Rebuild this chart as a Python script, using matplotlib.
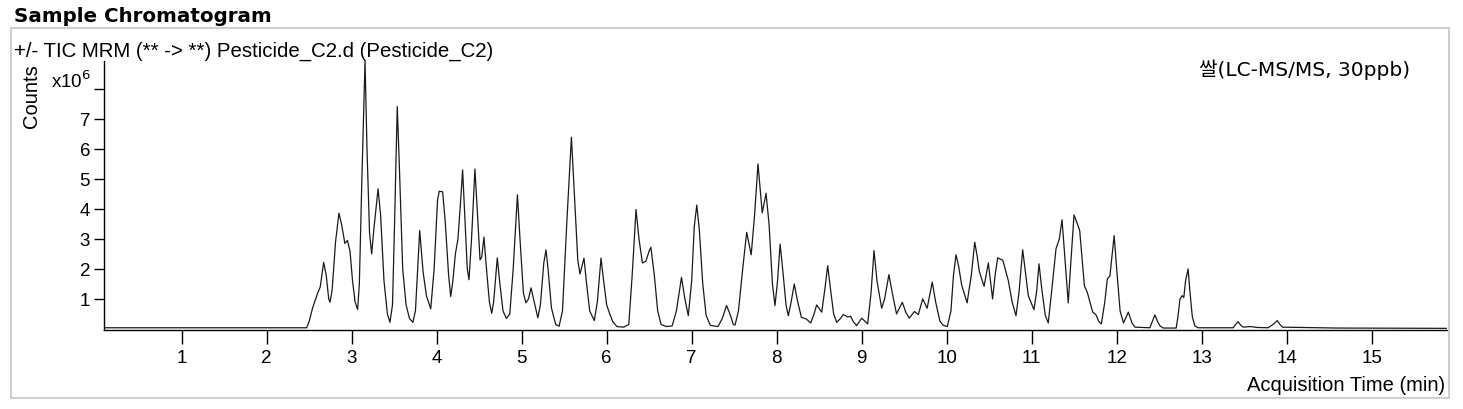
import matplotlib.pyplot as plt
from matplotlib.patches import Rectangle

# 크로마토그램 추적값: 시간(min)과 강도(x10^6), 그림에서 읽은 값
times = [
    0.09, 2.40, 2.47, 2.50, 2.54, 2.57, 2.60, 2.63, 2.67, 2.70, 2.73, 2.745,
    2.77, 2.81, 2.85, 2.88, 2.92, 2.95, 2.98, 3.01, 3.04, 3.07, 3.09, 3.12,
    3.157, 3.18, 3.21, 3.235, 3.26, 3.31, 3.34, 3.38, 3.42, 3.45, 3.48, 3.50,
    3.536, 3.56, 3.60, 3.64, 3.68, 3.72, 3.75, 3.80, 3.84, 3.88, 3.93, 3.97,
    4.01, 4.03, 4.07, 4.10, 4.14, 4.165, 4.19, 4.22, 4.25, 4.28, 4.305, 4.33,
    4.36, 4.38, 4.41, 4.45, 4.48, 4.51, 4.53, 4.556, 4.58, 4.62, 4.647, 4.67,
    4.713, 4.74, 4.78, 4.82, 4.86, 4.90, 4.95, 4.98, 5.02, 5.05, 5.08, 5.11,
    5.14, 5.19, 5.22, 5.26, 5.286, 5.31, 5.35, 5.40, 5.44, 5.48, 5.53, 5.585,
    5.62, 5.66, 5.686, 5.733, 5.76, 5.80, 5.854, 5.89, 5.933, 5.96, 6.00, 6.03,
    6.07, 6.12, 6.20, 6.26, 6.30, 6.345, 6.38, 6.42, 6.46, 6.50, 6.52, 6.56,
    6.60, 6.64, 6.70, 6.77, 6.82, 6.88, 6.92, 6.96, 7.00, 7.03, 7.06, 7.09,
    7.13, 7.17, 7.22, 7.31, 7.36, 7.41, 7.45, 7.49, 7.51, 7.55, 7.60, 7.647,
    7.70, 7.74, 7.78, 7.81, 7.83, 7.875, 7.91, 7.95, 7.98, 8.01, 8.04, 8.07,
    8.11, 8.137, 8.17, 8.207, 8.24, 8.29, 8.35, 8.40, 8.44, 8.47, 8.53, 8.57,
    8.60, 8.63, 8.67, 8.706, 8.75, 8.784, 8.835, 8.87, 8.90, 8.94, 9.00, 9.04,
    9.07, 9.11, 9.145, 9.18, 9.235, 9.27, 9.32, 9.36, 9.41, 9.478, 9.52, 9.56,
    9.62, 9.666, 9.718, 9.77, 9.83, 9.87, 9.92, 9.96, 10.007, 10.05, 10.08,
    10.11, 10.14, 10.176, 10.24, 10.29, 10.33, 10.36, 10.384, 10.44, 10.49,
    10.54, 10.57, 10.60, 10.66, 10.725, 10.77, 10.815, 10.85, 10.894, 10.93,
    10.96, 11.027, 11.06, 11.086, 11.12, 11.16, 11.195, 11.24, 11.286, 11.325,
    11.357, 11.39, 11.43, 11.46, 11.498, 11.548, 11.565, 11.60, 11.62, 11.654,
    11.718, 11.757, 11.79, 11.82, 11.86, 11.89, 11.92, 11.97, 12.00, 12.04,
    12.08, 12.137, 12.18, 12.215, 12.39, 12.42, 12.45, 12.48, 12.51, 12.547,
    12.70, 12.72, 12.745, 12.77, 12.79, 12.81, 12.84, 12.86, 12.89, 12.92,
    12.96, 13.37, 13.40, 13.43, 13.46, 13.49, 13.57, 13.65, 13.78, 13.84,
    13.89, 13.92, 13.95, 14.60, 15.89,
]
counts = [
    0.04, 0.04, 0.04, 0.25, 0.70, 0.95, 1.20, 1.40, 2.22, 1.80, 1.00, 0.89,
    1.30, 2.90, 3.86, 3.50, 2.85, 2.95, 2.60, 1.60, 0.90, 0.65, 1.50, 5.00,
    8.94, 6.00, 3.20, 2.50, 3.30, 4.67, 3.80, 1.60, 0.50, 0.22, 0.80, 3.00,
    7.41, 5.50, 2.00, 0.80, 0.35, 0.22, 0.60, 3.28, 1.90, 1.10, 0.67, 2.00,
    4.30, 4.59, 4.57, 3.60, 1.80, 1.08, 1.60, 2.50, 3.00, 4.20, 5.30, 3.80,
    2.00, 1.64, 3.00, 5.33, 3.80, 2.30, 2.40, 3.06, 2.20, 0.90, 0.52, 0.90,
    2.37, 1.60, 0.60, 0.35, 0.50, 2.00, 4.47, 3.00, 1.20, 0.87, 1.00, 1.37,
    1.00, 0.37, 0.80, 2.20, 2.63, 2.00, 0.70, 0.15, 0.09, 0.60, 3.50, 6.39,
    4.50, 2.30, 1.83, 2.36, 1.60, 0.60, 0.28, 0.90, 2.36, 1.70, 0.80, 0.55,
    0.25, 0.08, 0.06, 0.15, 1.80, 3.98, 3.00, 2.20, 2.25, 2.60, 2.72, 1.80,
    0.60, 0.15, 0.08, 0.10, 0.60, 1.72, 1.00, 0.44, 1.60, 3.40, 4.13, 3.30,
    1.50, 0.45, 0.12, 0.08, 0.35, 0.78, 0.50, 0.15, 0.13, 0.60, 2.00, 3.22,
    2.47, 3.80, 5.50, 4.50, 3.87, 4.52, 3.50, 1.50, 0.78, 1.60, 2.83, 2.00,
    0.80, 0.44, 0.90, 1.50, 1.00, 0.39, 0.33, 0.20, 0.50, 0.80, 0.56, 1.40,
    2.11, 1.40, 0.50, 0.22, 0.35, 0.48, 0.40, 0.42, 0.25, 0.11, 0.36, 0.25,
    0.17, 1.20, 2.61, 1.60, 0.69, 1.00, 1.81, 1.20, 0.50, 0.89, 0.55, 0.36,
    0.58, 0.48, 1.00, 0.69, 1.56, 0.90, 0.26, 0.12, 0.08, 0.60, 1.80,
    2.47, 2.10, 1.47, 0.87, 1.80, 2.89, 2.40, 1.91, 1.42, 2.20,
    1.00, 1.80, 2.37, 2.29, 1.61, 0.90, 0.44, 1.20, 2.64, 1.80,
    1.11, 0.64, 1.30, 2.17, 1.30, 0.45, 0.20, 1.40, 2.67, 3.00,
    3.64, 2.40, 0.87, 2.20, 3.80, 3.42, 3.27, 2.10, 1.44, 1.22,
    0.56, 0.47, 0.25, 0.17, 0.90, 1.67, 1.76, 3.11, 2.00, 0.60,
    0.20, 0.56, 0.20, 0.06, 0.04, 0.25, 0.47, 0.25, 0.10, 0.03,
    0.03, 0.40, 1.00, 1.11, 1.05, 1.60, 2.00, 1.30, 0.40, 0.10,
    0.04, 0.04, 0.15, 0.24, 0.12, 0.06, 0.08, 0.05, 0.04, 0.15,
    0.28, 0.15, 0.06, 0.03, 0.02,
]

x_ticks = list(range(1, 16))
y_ticks = [1, 2, 3, 4, 5, 6, 7, 8]
y_tick_labels = ["1", "2", "3", "4", "5", "6", "7", ""]

title = "Sample Chromatogram"
subtitle = "+/- TIC MRM (** -> **) Pesticide_C2.d (Pesticide_C2)"
sample_label = "쌀(LC-MS/MS, 30ppb)"

plt.rcParams['font.family'] = ['Liberation Sans', 'DejaVu Sans']

W, H = 1463, 410
fig = plt.figure(figsize=(W / 100, H / 100), dpi=100)

# 바깥 회색 테두리
fig.patches.append(Rectangle((11 / W, 1 - 399 / H), 1438 / W, 370 / H,
                             transform=fig.transFigure, fill=False,
                             edgecolor='#cfcfcf', linewidth=1.5))

ax = fig.add_axes([104 / W, 1 - 331 / H, 1343 / W, 269 / H])
ax.plot(times, counts, color='#1a1a1a', linewidth=0.9)

ax.set_xlim(0.086, 15.886)
ax.set_ylim(-0.035, 8.93)
ax.set_xticks(x_ticks)
ax.set_xticklabels([str(t) for t in x_ticks])
ax.set_yticks(y_ticks)
ax.set_yticklabels(y_tick_labels)
ax.tick_params(axis='x', length=10, width=1, pad=4, labelsize=13.5)
ax.tick_params(axis='y', length=7, width=1, pad=3, labelsize=13.5)
for s in ['top', 'right']:
    ax.spines[s].set_visible(False)
for s in ['left', 'bottom']:
    ax.spines[s].set_linewidth(1.0)

fig.text(14 / W, 1 - 17 / H, title, fontsize=14.3, fontweight='bold',
         family='DejaVu Sans', va='center', ha='left')
fig.text(14 / W, 1 - 51 / H, subtitle, fontsize=14.7, va='center', ha='left')
fig.text(1410 / W, 1 - 70 / H, sample_label, fontsize=14.5,
         family=['DejaVu Sans', 'Noto Sans CJK KR'], va='center', ha='right')
fig.text(31 / W, 1 - 96 / H, "Counts", fontsize=14.5, rotation=90,
         va='center', ha='center')
fig.text(51 / W, 1 - 81 / H, r"x10$^6$", fontsize=13.5, va='center', ha='left')
fig.text(1445 / W, 1 - 386 / H, "Acquisition Time (min)", fontsize=14.5,
         va='center', ha='right')

plt.savefig("out.png", dpi=100)
